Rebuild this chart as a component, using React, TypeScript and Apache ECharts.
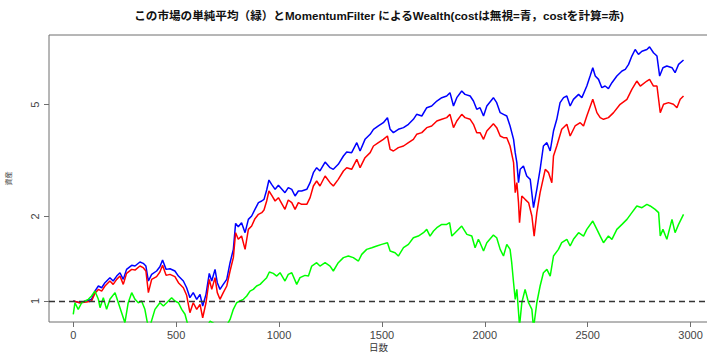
import React, { useEffect, useRef } from "react";
import * as echarts from "echarts";

// Wealth paths: [day, wealth]
const wealthNoCost: [number, number][] = [
  [0, 1.0], [32, 0.986], [65, 1.0], [89, 1.014], [105, 1.085], [122, 1.131], [138, 1.115], [154, 1.162],
  [178, 1.211], [194, 1.178], [211, 1.227], [227, 1.261], [243, 1.194], [259, 1.296], [284, 1.34], [300, 1.332],
  [324, 1.377], [340, 1.362], [353, 1.332], [365, 1.178], [381, 1.244], [405, 1.279], [421, 1.325], [434, 1.399],
  [451, 1.296], [470, 1.303], [494, 1.279], [511, 1.227], [535, 1.178], [551, 1.115], [567, 1.028], [583, 1.071],
  [600, 1.014], [616, 1.056], [629, 0.96], [645, 1.056], [661, 1.254], [673, 1.178], [689, 1.296], [700, 1.162],
  [713, 1.1], [729, 1.146], [746, 1.194], [762, 1.369], [778, 1.527], [789, 1.89], [802, 1.839], [818, 1.9],
  [835, 1.751], [851, 1.953], [867, 2.007], [883, 2.12], [900, 2.239], [916, 2.27], [927, 2.301], [940, 2.484],
  [951, 2.696], [964, 2.602], [981, 2.498], [997, 2.581], [1029, 2.43], [1045, 2.532], [1062, 2.498], [1078, 2.365],
  [1094, 2.464], [1110, 2.464], [1135, 2.498], [1151, 2.638], [1167, 2.864], [1183, 2.983], [1199, 2.903], [1224, 3.125],
  [1248, 2.983], [1264, 2.943], [1288, 3.066], [1313, 3.283], [1329, 3.392], [1353, 3.374], [1378, 3.662], [1394, 3.42],
  [1418, 3.763], [1443, 3.921], [1459, 4.085], [1483, 4.198], [1507, 4.314], [1527, 4.495], [1540, 4.085], [1556, 3.975],
  [1580, 4.085], [1605, 4.141], [1629, 4.256], [1653, 4.434], [1669, 4.619], [1694, 4.556], [1718, 4.878], [1742, 4.946],
  [1767, 5.152], [1791, 5.295], [1815, 5.368], [1831, 5.516], [1848, 4.946], [1864, 5.295], [1888, 5.592], [1904, 5.441],
  [1929, 5.368], [1945, 5.152], [1961, 4.812], [1977, 4.878], [1994, 4.556], [2010, 4.946], [2042, 5.295], [2058, 5.083],
  [2075, 4.683], [2091, 4.619], [2107, 4.556], [2123, 4.198], [2140, 3.763], [2148, 3.374], [2156, 3.108], [2164, 2.638],
  [2172, 2.943], [2188, 3.024], [2204, 2.786], [2221, 2.711], [2237, 2.149], [2253, 2.498], [2269, 2.943], [2285, 3.563],
  [2302, 3.662], [2318, 3.42], [2334, 4.029], [2350, 4.434], [2366, 5.083], [2383, 5.295], [2399, 5.368], [2415, 4.946],
  [2431, 5.223], [2456, 5.441], [2472, 5.295], [2496, 5.825], [2512, 6.322], [2525, 6.769], [2537, 6.322], [2553, 6.152],
  [2569, 5.746], [2585, 5.825], [2601, 5.7], [2618, 5.986], [2642, 6.322], [2667, 6.587], [2683, 6.677], [2699, 6.956],
  [2715, 7.446], [2731, 7.86], [2747, 7.55], [2764, 7.75], [2788, 7.86], [2801, 8.03], [2820, 7.65], [2837, 7.446],
  [2850, 6.322], [2866, 6.769], [2885, 6.862], [2910, 6.769], [2925, 6.497], [2942, 6.956], [2966, 7.207],
];

const wealthWithCost: [number, number][] = [
  [0, 1.0], [32, 0.986], [65, 0.992], [89, 1.0], [105, 1.065], [122, 1.1], [138, 1.085], [154, 1.131],
  [178, 1.178], [194, 1.146], [211, 1.194], [227, 1.227], [243, 1.146], [259, 1.254], [284, 1.296], [300, 1.289],
  [324, 1.332], [340, 1.314], [353, 1.279], [365, 1.071], [381, 1.194], [405, 1.221], [421, 1.268], [434, 1.34],
  [451, 1.234], [470, 1.244], [494, 1.221], [511, 1.162], [535, 1.115], [551, 1.048], [567, 0.909], [583, 0.986],
  [600, 0.934], [616, 0.973], [629, 0.872], [645, 0.986], [661, 1.194], [673, 1.1], [689, 1.211], [700, 1.071],
  [713, 1.014], [729, 1.071], [746, 1.131], [762, 1.279], [778, 1.427], [789, 1.751], [802, 1.658], [818, 1.703],
  [835, 1.527], [851, 1.799], [867, 1.849], [883, 1.964], [900, 2.035], [916, 2.063], [927, 2.108], [940, 2.27],
  [951, 2.464], [964, 2.381], [981, 2.27], [997, 2.333], [1029, 2.12], [1045, 2.289], [1062, 2.239], [1078, 2.12],
  [1094, 2.239], [1110, 2.209], [1135, 2.209], [1151, 2.333], [1167, 2.567], [1183, 2.674], [1199, 2.567], [1224, 2.786],
  [1248, 2.638], [1264, 2.567], [1288, 2.711], [1313, 2.903], [1329, 2.983], [1353, 2.943], [1378, 3.194], [1394, 2.983],
  [1418, 3.238], [1443, 3.374], [1459, 3.563], [1483, 3.662], [1507, 3.763], [1527, 3.868], [1540, 3.467], [1556, 3.42],
  [1580, 3.515], [1605, 3.563], [1629, 3.662], [1653, 3.763], [1669, 3.921], [1694, 3.975], [1718, 4.141], [1742, 4.198],
  [1767, 4.373], [1791, 4.434], [1815, 4.495], [1831, 4.619], [1848, 4.141], [1864, 4.373], [1888, 4.619], [1904, 4.495],
  [1929, 4.434], [1945, 4.256], [1961, 3.975], [1977, 3.975], [1994, 3.763], [2010, 4.029], [2042, 4.277], [2058, 4.141],
  [2075, 3.868], [2091, 3.815], [2107, 3.815], [2123, 3.563], [2140, 3.108], [2148, 2.43], [2156, 2.638], [2164, 2.239],
  [2169, 1.9], [2180, 2.365], [2196, 2.301], [2213, 2.239], [2229, 2.007], [2240, 1.703], [2253, 2.063], [2269, 2.43],
  [2294, 2.943], [2310, 2.864], [2326, 2.638], [2334, 3.283], [2350, 3.563], [2374, 4.085], [2399, 4.256], [2415, 3.868],
  [2439, 4.198], [2464, 4.314], [2480, 4.198], [2496, 4.556], [2525, 5.223], [2545, 4.683], [2561, 4.495], [2577, 4.434],
  [2601, 4.495], [2626, 4.683], [2658, 5.014], [2691, 5.223], [2715, 5.669], [2739, 6.069], [2756, 5.825], [2788, 6.069],
  [2801, 6.152], [2820, 5.825], [2837, 5.825], [2853, 4.683], [2869, 5.014], [2893, 5.083], [2917, 5.014], [2934, 4.878],
  [2950, 5.223], [2966, 5.368],
];

const marketAverage: [number, number][] = [
  [0, 0.897], [8, 0.986], [24, 0.934], [41, 0.986], [57, 1.0], [73, 1.014], [89, 1.042], [105, 1.085],
  [122, 1.014], [130, 0.947], [146, 1.028], [162, 0.934], [178, 1.014], [203, 1.071], [219, 0.986], [235, 0.909],
  [251, 0.837], [267, 0.986], [284, 1.071], [300, 1.014], [316, 0.986], [332, 1.0], [348, 0.934], [360, 0.837],
  [373, 0.815], [397, 0.934], [421, 0.986], [438, 0.96], [454, 0.986], [478, 1.028], [494, 1.0], [511, 0.986],
  [527, 0.934], [543, 0.897], [554, 0.837], [583, 0.78], [616, 0.77], [645, 0.8], [665, 0.848], [697, 0.82],
  [746, 0.82], [762, 0.86], [778, 0.934], [794, 0.986], [810, 1.0], [827, 1.014], [843, 1.042], [859, 1.085],
  [875, 1.1], [891, 1.131], [908, 1.146], [924, 1.178], [940, 1.211], [953, 1.268], [972, 1.254], [989, 1.227],
  [1005, 1.261], [1029, 1.178], [1045, 1.244], [1062, 1.261], [1086, 1.146], [1102, 1.211], [1126, 1.234], [1143, 1.227],
  [1159, 1.332], [1183, 1.369], [1199, 1.332], [1224, 1.369], [1248, 1.332], [1264, 1.279], [1288, 1.369], [1313, 1.427],
  [1337, 1.446], [1361, 1.427], [1386, 1.388], [1402, 1.466], [1426, 1.527], [1451, 1.548], [1475, 1.57], [1499, 1.591],
  [1527, 1.613], [1540, 1.507], [1564, 1.486], [1580, 1.446], [1605, 1.548], [1629, 1.591], [1653, 1.68], [1677, 1.703],
  [1702, 1.751], [1718, 1.799], [1734, 1.703], [1751, 1.775], [1767, 1.824], [1791, 1.874], [1815, 1.874], [1829, 1.9],
  [1840, 1.703], [1856, 1.751], [1888, 1.849], [1913, 1.727], [1937, 1.703], [1953, 1.548], [1969, 1.658], [1977, 1.613],
  [1994, 1.507], [2010, 1.613], [2042, 1.717], [2058, 1.68], [2075, 1.527], [2091, 1.446], [2107, 1.591], [2123, 1.527],
  [2131, 1.369], [2140, 1.162], [2148, 1.014], [2156, 1.1], [2169, 0.815], [2180, 0.986], [2196, 1.1], [2213, 0.986],
  [2229, 0.934], [2237, 0.8], [2253, 0.986], [2269, 1.131], [2285, 1.261], [2302, 1.296], [2318, 1.227], [2334, 1.446],
  [2358, 1.527], [2374, 1.613], [2399, 1.658], [2415, 1.57], [2431, 1.658], [2456, 1.751], [2480, 1.703], [2496, 1.799],
  [2525, 1.926], [2545, 1.799], [2561, 1.703], [2577, 1.613], [2601, 1.703], [2618, 1.658], [2642, 1.799], [2667, 1.874],
  [2691, 1.953], [2715, 2.063], [2739, 2.179], [2764, 2.149], [2788, 2.209], [2804, 2.179], [2828, 2.12], [2845, 2.063],
  [2853, 1.703], [2866, 1.799], [2885, 1.658], [2910, 1.953], [2925, 1.751], [2942, 1.874], [2966, 2.035],
];

const xTicks = [0, 500, 1000, 1500, 2000, 2500, 3000];
const yTicks = [1, 2, 5];

const titleText = "この市場の単純平均（緑）とMomentumFilter によるWealth(costは無視=青，costを計算=赤)";
const xName = "日数";
const yName = "資産";

const FONT = "'Liberation Sans', 'Noto Sans CJK JP', sans-serif";

export default function App() {
  const ref = useRef<HTMLDivElement>(null);

  useEffect(() => {
    document.body.style.margin = "0";
    if (!ref.current) return;
    const chart = echarts.init(ref.current, undefined, { renderer: "svg" });
    const axisGray = "#6e6e6e";
    chart.setOption({
      animation: false,
      backgroundColor: "#ffffff",
      textStyle: { fontFamily: FONT },
      graphic: [
        {
          type: "text",
          x: 379,
          y: 15,
          style: {
            text: titleText,
            align: "center",
            verticalAlign: "middle",
            fontSize: 11.6,
            fontWeight: "bold",
            fontFamily: FONT,
            fill: "#111",
          },
        },
      ],
      grid: {
        left: 49,
        right: 12,
        top: 35,
        bottom: 32,
        containLabel: false,
        outerBoundsMode: "none",
        show: true,
        borderColor: axisGray,
        borderWidth: 1,
        backgroundColor: "transparent",
      },
      xAxis: {
        type: "value",
        min: -118,
        max: 3085,
        name: xName,
        nameLocation: "middle",
        nameGap: 20,
        nameMoveOverlap: false,
        nameTextStyle: { fontSize: 9.5, lineHeight: 10, color: "#333", fontFamily: FONT },
        axisLine: { show: false, onZero: false },
        splitLine: { show: false },
        axisTick: {
          show: true,
          length: 5,
          customValues: xTicks,
          lineStyle: { color: axisGray },
        },
        axisLabel: {
          customValues: xTicks,
          formatter: (v: number) => String(v),
          fontSize: 11,
          color: "#444",
          margin: 7,
          fontFamily: FONT,
        },
      },
      yAxis: {
        type: "log",
        logBase: 10,
        min: 0.842,
        max: 8.85,
        name: yName,
        nameLocation: "middle",
        nameRotate: 90,
        nameGap: 37,
        nameTextStyle: { fontSize: 7, color: "#333", fontFamily: FONT },
        axisLine: { show: false, onZero: false },
        splitLine: { show: false },
        axisTick: {
          show: true,
          length: 5,
          customValues: yTicks,
          lineStyle: { color: axisGray },
        },
        axisLabel: {
          customValues: yTicks,
          formatter: (v: number) => String(v),
          rotate: 90,
          fontSize: 11,
          color: "#444",
          margin: 9,
          fontFamily: FONT,
        },
      },
      series: [
        {
          type: "line",
          name: "cost無視",
          data: wealthNoCost,
          showSymbol: false,
          lineStyle: { color: "#0000ff", width: 1.5 },
          itemStyle: { color: "#0000ff" },
          z: 2,
        },
        {
          type: "line",
          name: "cost計算",
          data: wealthWithCost,
          showSymbol: false,
          lineStyle: { color: "#ff0000", width: 1.5 },
          itemStyle: { color: "#ff0000" },
          z: 3,
        },
        {
          type: "line",
          name: "単純平均",
          data: marketAverage,
          showSymbol: false,
          lineStyle: { color: "#00ff00", width: 1.5 },
          itemStyle: { color: "#00ff00" },
          z: 4,
          markLine: {
            silent: true,
            symbol: ["none", "none"],
            label: { show: false },
            lineStyle: { color: "#333", type: [6, 4], width: 1.3 },
            data: [{ yAxis: 1 }],
            z: 5,
          },
        },
      ],
    });
    return () => chart.dispose();
  }, []);

  return (
    <div style={{ width: 707, height: 354, overflow: "hidden", position: "relative", background: "#fff" }}>
      <div ref={ref} style={{ width: 720, height: 354 }} />
    </div>
  );
}
